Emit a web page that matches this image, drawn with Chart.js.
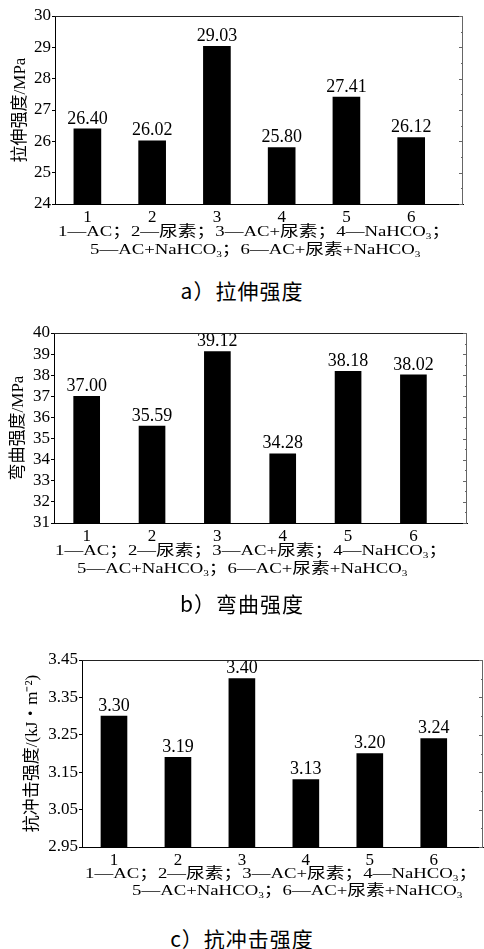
<!DOCTYPE html>
<html>
<head>
<meta charset="utf-8">
<script src="https://cdn.jsdelivr.net/npm/chart.js@4.4.0/dist/chart.umd.min.js"></script>
<style>
body { margin: 0; background: #fff; }
#page { position: relative; width: 484px; height: 949px; overflow: hidden; }
.box { position: absolute; left: 0; width: 484px; }
.note { position: absolute; white-space: nowrap; font: 15px "Liberation Serif", "Noto Sans CJK SC"; color: #000;
        line-height: 16px; transform-origin: 0 50%; transform: scaleX(1.25); }
.note sub { font-size: 9px; vertical-align: -3px; line-height: 0; }
.cap { position: absolute; left: 0; width: 484px; text-align: center; font: 21px "Noto Sans CJK SC"; line-height: 24px;
       letter-spacing: 1px; color: #000; }
</style>
</head>
<body>
<div id="page">
  <div class="box" style="top:0;height:228px"><canvas id="c1" width="484" height="228"></canvas></div>
  <div class="note" style="left:58px;top:223px">1—AC；2—尿素；3—AC+尿素；4—NaHCO<sub>3</sub>；</div>
  <div class="note" style="left:90px;top:241px">5—AC+NaHCO<sub>3</sub>；6—AC+尿素+NaHCO<sub>3</sub></div>
  <div class="cap" style="top:278px">a）拉伸强度</div>

  <div class="box" style="top:310px;height:237px"><canvas id="c2" width="484" height="237"></canvas></div>
  <div class="note" style="left:55px;top:542px">1—AC；2—尿素；3—AC+尿素；4—NaHCO<sub>3</sub>；</div>
  <div class="note" style="left:77px;top:560px">5—AC+NaHCO<sub>3</sub>；6—AC+尿素+NaHCO<sub>3</sub></div>
  <div class="cap" style="top:591px">b）弯曲强度</div>

  <div class="box" style="top:640px;height:231px"><canvas id="c3" width="484" height="231"></canvas></div>
  <div class="note" style="left:85px;top:865px">1—AC；2—尿素；3—AC+尿素；4—NaHCO<sub>3</sub>；</div>
  <div class="note" style="left:132px;top:882px">5—AC+NaHCO<sub>3</sub>；6—AC+尿素+NaHCO<sub>3</sub></div>
  <div class="cap" style="top:926px">c）抗冲击强度</div>
</div>

<script>
// sample numbers 1..6
const categories = ['1', '2', '3', '4', '5', '6'];

// a) tensile strength, MPa
const tensile = [26.40, 26.02, 29.03, 25.80, 27.41, 26.12];
const tensileTicks = [24, 25, 26, 27, 28, 29, 30];

// b) flexural strength, MPa
const flexural = [37.00, 35.59, 39.12, 34.28, 38.18, 38.02];
const flexuralTicks = [31, 32, 33, 34, 35, 36, 37, 38, 39, 40];

// c) impact strength, kJ/m2
const impact = [3.30, 3.19, 3.40, 3.13, 3.20, 3.24];
const impactTicks = [2.95, 3.05, 3.15, 3.25, 3.35, 3.45];

const SERIF = '"Liberation Serif", "Noto Sans CJK SC"';

// top + right frame, with small inward ticks on the right edge
const frame = {
    id: 'frame',
    afterDraw(chart) {
        const { ctx, chartArea: a, scales: { y } } = chart;
        ctx.save();
        ctx.lineWidth = 1;
        ctx.strokeStyle = '#222';
        ctx.beginPath();
        ctx.moveTo(a.left, a.top + 0.5);
        ctx.lineTo(a.right, a.top + 0.5);
        ctx.stroke();
        ctx.strokeStyle = '#666';
        ctx.beginPath();
        ctx.moveTo(a.right - 0.5, a.top);
        ctx.lineTo(a.right - 0.5, a.bottom);
        const t = y.ticks;
        for (let i = 0; i < t.length; i++) {
            const py = Math.round(y.getPixelForValue(t[i].value)) + 0.5;
            ctx.moveTo(a.right, py);
            ctx.lineTo(a.right - 4, py);
            if (i < t.length - 1) {
                const my = Math.round(y.getPixelForValue((t[i].value + t[i + 1].value) / 2)) + 0.5;
                ctx.moveTo(a.right, my);
                ctx.lineTo(a.right - 2, my);
            }
        }
        ctx.stroke();
        ctx.restore();
    }
};

// numbers above the bars
const valueLabels = {
    id: 'valueLabels',
    afterDatasetsDraw(chart) {
        const ctx = chart.ctx;
        const meta = chart.getDatasetMeta(0);
        const data = chart.data.datasets[0].data;
        ctx.save();
        ctx.font = '18px ' + SERIF;
        ctx.fillStyle = '#000';
        ctx.textAlign = 'center';
        ctx.textBaseline = 'bottom';
        meta.data.forEach((bar, i) => {
            ctx.fillText(data[i].y.toFixed(2), bar.x, bar.y - 1);
        });
        ctx.restore();
    }
};

const makeChart = (id, values, yTicks, yTitle, o) => {
    new Chart(document.getElementById(id), {
        type: 'bar',
        data: {
            datasets: [{
                data: categories.map((c, i) => ({ x: Number(c), y: values[i] })),
                backgroundColor: '#000',
                borderWidth: 0,
                barThickness: o.barW
            }]
        },
        options: {
            responsive: false,
            animation: false,
            devicePixelRatio: 1,
            layout: { padding: { top: o.padTop, right: o.padRight, left: 0, bottom: 0 } },
            plugins: { legend: { display: false }, tooltip: { enabled: false } },
            scales: {
                x: {
                    type: 'linear',
                    offset: false,
                    min: 0.5,
                    max: o.xMax,
                    afterBuildTicks: s => { s.ticks = categories.map(c => ({ value: Number(c) })); },
                    afterFit: s => { s.height = 24; },
                    grid: { offset: false, drawOnChartArea: false, drawTicks: false },
                    border: { color: '#000', width: 1 },
                    ticks: { autoSkip: false, color: '#000', font: { family: SERIF, size: 17 }, padding: 3, callback: v => String(v) }
                },
                y: {
                    min: yTicks[0],
                    max: yTicks[yTicks.length - 1],
                    afterBuildTicks: s => { s.ticks = yTicks.map(v => ({ value: v })); },
                    afterFit: s => { s.width = o.yW; },
                    grid: { drawOnChartArea: false, drawTicks: true, tickLength: 3, color: '#000' },
                    border: { color: '#000', width: 1 },
                    ticks: { autoSkip: false, color: '#000', font: { family: SERIF, size: 17 }, padding: 1, callback: v => v.toFixed(o.dec) },
                    title: { display: true, text: yTitle, color: '#000', font: { family: SERIF, size: 17 }, padding: { top: o.titlePad, bottom: 0 } }
                }
            }
        },
        plugins: [frame, valueLabels]
    });
};

makeChart('c1', tensile, tensileTicks, '拉伸强度/MPa',
    { yW: 55, padTop: 16, padRight: 21, barW: 27, xMax: 6.8, dec: 0, titlePad: 10 });
makeChart('c2', flexural, flexuralTicks, '弯曲强度/MPa',
    { yW: 54, padTop: 23, padRight: 17, barW: 26, xMax: 6.82, dec: 0, titlePad: 8 });
makeChart('c3', impact, impactTicks, '抗冲击强度/(kJ・m⁻²)',
    { yW: 82, padTop: 20, padRight: 1, barW: 26, xMax: 6.77, dec: 2, titlePad: 22 });
</script>
</body>
</html>
